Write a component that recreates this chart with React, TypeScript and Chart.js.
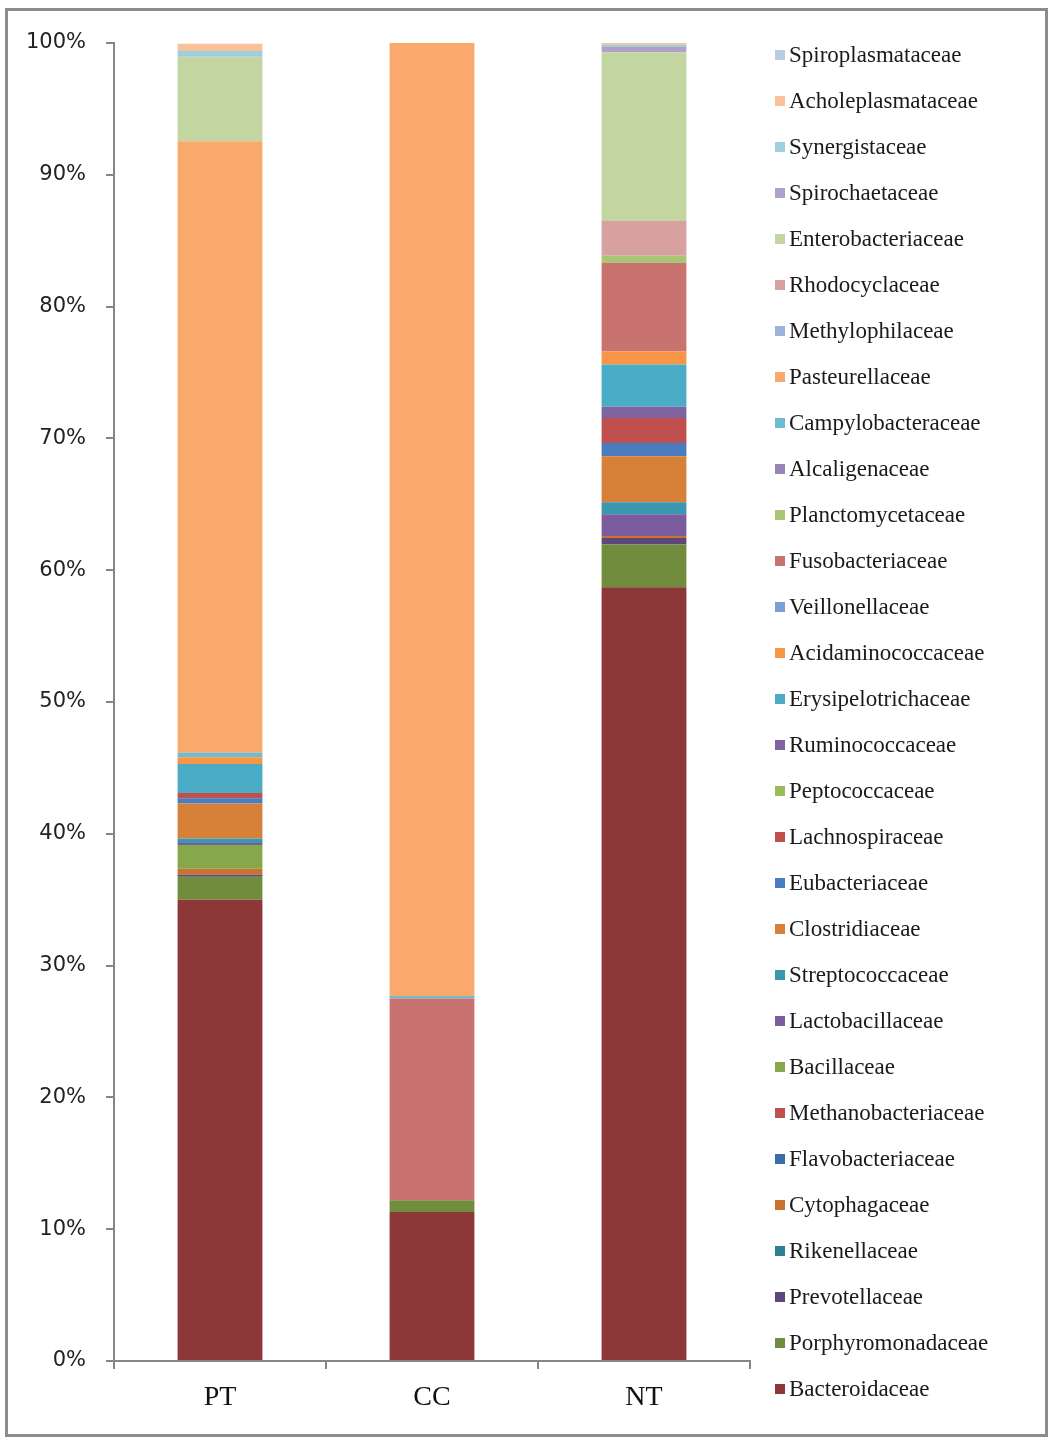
import React, { useEffect, useRef } from "react";
import { Chart, registerables } from "chart.js";

Chart.register(...registerables);

const categories = ["PT", "CC", "NT"];

// Stack order, bottom to top
const families = [
  "Bacteroidaceae",
  "Porphyromonadaceae",
  "Prevotellaceae",
  "Rikenellaceae",
  "Cytophagaceae",
  "Flavobacteriaceae",
  "Methanobacteriaceae",
  "Bacillaceae",
  "Lactobacillaceae",
  "Streptococcaceae",
  "Clostridiaceae",
  "Eubacteriaceae",
  "Lachnospiraceae",
  "Peptococcaceae",
  "Ruminococcaceae",
  "Erysipelotrichaceae",
  "Acidaminococcaceae",
  "Veillonellaceae",
  "Fusobacteriaceae",
  "Planctomycetaceae",
  "Alcaligenaceae",
  "Campylobacteraceae",
  "Pasteurellaceae",
  "Methylophilaceae",
  "Rhodocyclaceae",
  "Enterobacteriaceae",
  "Spirochaetaceae",
  "Synergistaceae",
  "Acholeplasmataceae",
  "Spiroplasmataceae",
];

const ptValues = [
  35.0, 1.75, 0.15, 0, 0.45, 0, 0, 1.8, 0.15, 0.35,
  2.65, 0.4, 0.4, 0, 0, 2.2, 0.5, 0, 0, 0,
  0, 0.35, 46.4, 0, 0, 6.4, 0, 0.45, 0.55, 0,
];

const ccValues = [
  11.3, 0.9, 0, 0, 0, 0, 0, 0, 0, 0,
  0, 0, 0, 0, 0, 0, 0, 0, 15.3, 0,
  0, 0.2, 72.3, 0, 0, 0, 0, 0, 0, 0,
];

const ntValues = [
  58.7, 3.25, 0.5, 0, 0.15, 0, 0, 0, 1.65, 0.9,
  3.5, 1.0, 1.9, 0, 0.85, 3.2, 1.0, 0, 6.7, 0.55,
  0, 0, 0, 0, 2.65, 12.8, 0.4, 0.15, 0.15, 0,
];

const colors = [
  "#8C3839", "#708C3C", "#5B4778", "#2E7F95", "#C87430",
  "#3A6DAA", "#C0504D", "#86A84A", "#7B5C9E", "#3A97AE",
  "#D6803A", "#4A7DC0", "#C0504D", "#9BBB59", "#8064A2",
  "#4BACC6", "#F79646", "#7BA0D4", "#C97371", "#A9C677",
  "#9A85B8", "#6DBCD2", "#F8A96B", "#98B4DA", "#D9A0A0",
  "#C3D5A0", "#B0A0CC", "#9CCFE0", "#F9C29A", "#B9CCE6",
];

export default function App() {
  const ref = useRef<HTMLCanvasElement>(null);

  useEffect(() => {
    document.body.style.margin = "0";
    const legendPlugin = {
      id: "sideLegend",
      afterDraw(chart: any) {
        const ctx = chart.ctx;
        ctx.save();
        const ds = chart.data.datasets.slice().reverse();
        ds.forEach((d: any, k: number) => {
          const y = 55 + k * 46;
          ctx.fillStyle = d.backgroundColor;
          ctx.fillRect(775, y - 5, 10, 10);
          ctx.fillStyle = "#1a1a1a";
          ctx.font = "23px 'Liberation Serif', serif";
          ctx.textBaseline = "middle";
          ctx.textAlign = "left";
          ctx.fillText(d.label, 789, y + 1);
        });
        ctx.restore();
      },
    };

    const chart = new Chart(ref.current as HTMLCanvasElement, {
      type: "bar",
      data: {
        labels: categories,
        datasets: families.map((f, i) => ({
          label: f,
          data: [ptValues[i], ccValues[i], ntValues[i]],
          backgroundColor: colors[i],
          borderWidth: 0,
          barPercentage: 0.4,
          categoryPercentage: 1,
        })),
      },
      options: {
        responsive: false,
        animation: false,
        devicePixelRatio: 1,
        layout: { padding: { top: 43, right: 306, bottom: 0, left: 0 } },
        plugins: { legend: { display: false }, tooltip: { enabled: false } },
        scales: {
          x: {
            stacked: true,
            grid: {
              display: true,
              drawOnChartArea: false,
              drawTicks: true,
              tickLength: 8,
              color: "#868686",
              lineWidth: 2,
              offset: true,
            },
            border: { color: "#868686", width: 2 },
            ticks: {
              font: { family: "'Liberation Serif', serif", size: 28 },
              color: "#111111",
              padding: 12,
            },
            afterFit: (s: any) => {
              s.height = 78;
            },
          },
          y: {
            stacked: true,
            min: 0,
            max: 100,
            ticks: {
              stepSize: 10,
              callback: (v: any) => v + "%",
              font: { family: "'DejaVu Sans', sans-serif", size: 21 },
              color: "#222222",
              padding: 20,
            },
            grid: {
              drawOnChartArea: false,
              tickLength: 8,
              color: "#868686",
              lineWidth: 2,
            },
            border: { color: "#868686", width: 2 },
            afterFit: (s: any) => {
              s.width = 114;
            },
          },
        },
      },
      plugins: [legendPlugin],
    });
    return () => chart.destroy();
  }, []);

  return (
    <div style={{ position: "relative", width: 1056, height: 1439 }}>
      <div
        style={{
          position: "absolute",
          left: 5,
          top: 8,
          width: 1043,
          height: 1429,
          border: "3px solid #8c8c8c",
          boxSizing: "border-box",
        }}
      />
      <canvas
        ref={ref}
        width={1056}
        height={1439}
        style={{ position: "absolute", left: 0, top: 0 }}
      />
    </div>
  );
}
